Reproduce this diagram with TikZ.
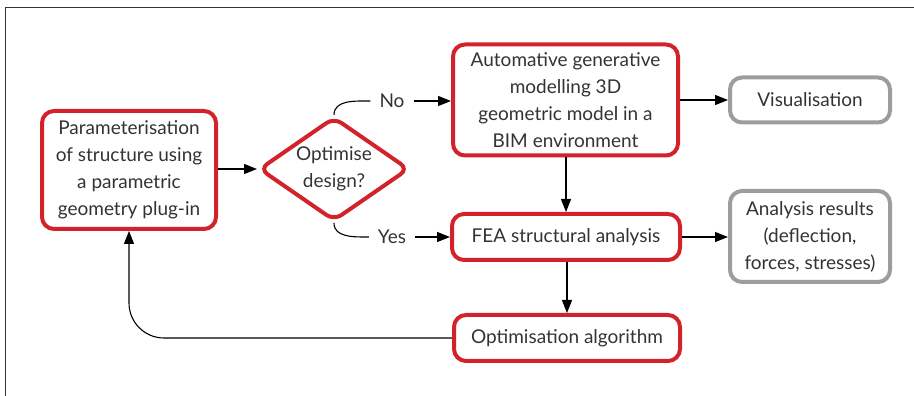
\documentclass[tikz,border=0pt]{standalone}
\usepackage{fontspec}
\setmainfont{Lato}
\usetikzlibrary{arrows.meta,shapes.geometric}
\definecolor{boxred}{HTML}{D2232A}
\definecolor{boxgrey}{HTML}{9D9D9D}
\definecolor{txtgrey}{HTML}{333333}

\begin{document}
\begin{tikzpicture}[x=1pt, y=1pt,
  every node/.style={font=\fontsize{19}{27}\selectfont, text=txtgrey, align=center},
  stage/.style={draw=boxred, line width=4pt, rounded corners=12pt, fill=white},
  result/.style={draw=boxgrey, line width=4pt, rounded corners=12pt, fill=white},
  decision/.style={diamond, draw=boxred, line width=4pt, rounded corners=9pt, minimum width=150pt, minimum height=104pt, inner sep=0pt},
  link/.style={line width=1.1pt},
  flow/.style={link, -{Triangle[length=13pt,width=10pt]}}]
\useasboundingbox (0,0) rectangle (914,396);
\draw[line width=0.9pt, black!80] (5,0) -- (5,389) -- (914,389);
% main steps
\node[stage, minimum width=174pt, minimum height=118pt] (param) at (129,226) {Parameterisation\\of structure using\\a parametric\\geometry plug-in};
\node[decision, label={center:Optimise\\design?}] (dec) at (334,227) {};
\node[stage, minimum width=225pt, minimum height=111pt] (auto) at (565.5,296) {Automative generative\\modelling 3D\\geometric model in a\\BIM environment};
\node[stage, minimum width=228pt, minimum height=46pt] (fea) at (566,159) {FEA structural analysis};
\node[stage, minimum width=226pt, minimum height=46pt] (algo) at (567,58) {Optimisation algorithm};
% outputs
\node[result, minimum width=160pt, minimum height=45pt] (vis) at (810,296) {Visualisation};
\node[result, minimum width=160pt, minimum height=91pt] (res) at (810,159.5) {Analysis results\\(deflection,\\forces, stresses)};
% branch labels
\node[inner xsep=9pt] (no) at (392,295) {No};
\node[inner xsep=9pt] (yes) at (392,159) {Yes};
% connectors
\draw[flow] (param.east |- dec.west) -- (dec.west);
\draw[link] (dec.north) to[out=90, in=180] (no.west);
\draw[flow] (no.east) -- (no.east -| auto.west);
\draw[link] (dec.south) to[out=-90, in=180] (yes.west);
\draw[flow] (yes.east) -- (yes.east -| fea.west);
\draw[flow] (auto.east |- vis.west) -- (vis.west);
\draw[flow] (auto.south -| fea.north) -- (fea.north);
\draw[flow] (fea.east) -- (fea.east -| res.west);
\draw[flow] (fea.south -| algo.north) -- (algo.north);
\draw[flow, rounded corners=35pt] (algo.west) -| (param.south);
\end{tikzpicture}
\end{document}
